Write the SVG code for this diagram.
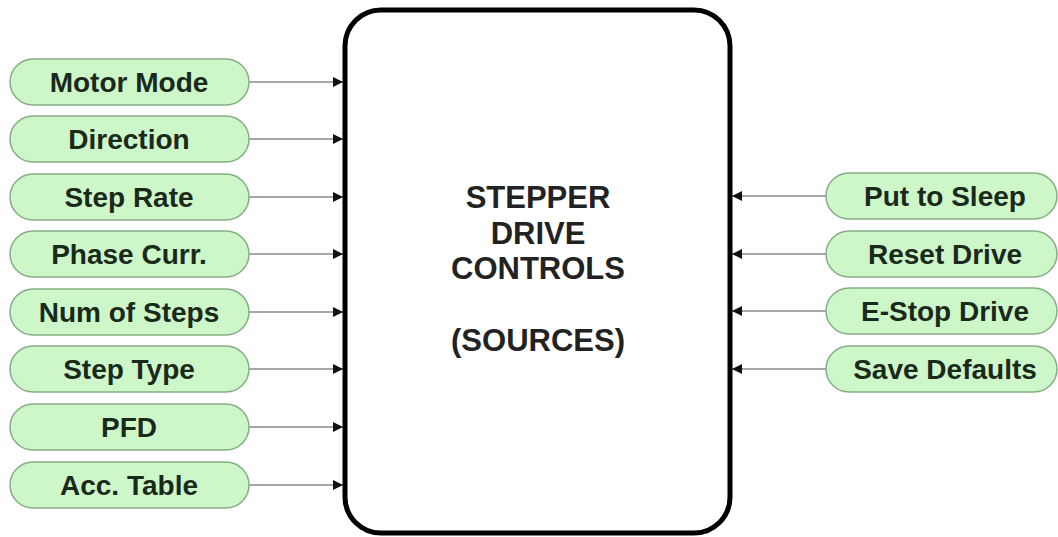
<svg xmlns="http://www.w3.org/2000/svg" width="1058" height="537" viewBox="0 0 1058 537">
<defs>
<style>
.pill{fill:#cdf6c9;stroke:#86ad86;stroke-width:1.5}
.lbl{font-family:"Liberation Sans",Arial,sans-serif;font-weight:bold;font-size:28px;fill:#1a2a1a;text-anchor:middle;dominant-baseline:central}
.ctr{font-family:"Liberation Sans",Arial,sans-serif;font-weight:bold;font-size:31px;fill:#222;text-anchor:middle}
.con{stroke:#888;stroke-width:1.3;fill:none}
</style>
<marker id="ah" viewBox="0 0 10 10" refX="10" refY="5" markerWidth="10" markerHeight="11" markerUnits="userSpaceOnUse" orient="auto">
<path d="M0,0 L10,5 L0,10 z" fill="#111"/>
</marker>
</defs>
<rect width="1058" height="537" fill="#fff"/>
<g id="connectors">
<line class="con" x1="249" y1="82" x2="343" y2="82" marker-end="url(#ah)"/>
<line class="con" x1="249" y1="139" x2="343" y2="139" marker-end="url(#ah)"/>
<line class="con" x1="249" y1="197" x2="343" y2="197" marker-end="url(#ah)"/>
<line class="con" x1="249" y1="254" x2="343" y2="254" marker-end="url(#ah)"/>
<line class="con" x1="249" y1="312" x2="343" y2="312" marker-end="url(#ah)"/>
<line class="con" x1="249" y1="369" x2="343" y2="369" marker-end="url(#ah)"/>
<line class="con" x1="249" y1="427" x2="343" y2="427" marker-end="url(#ah)"/>
<line class="con" x1="249" y1="485" x2="343" y2="485" marker-end="url(#ah)"/>
<line class="con" x1="826" y1="196" x2="732" y2="196" marker-end="url(#ah)"/>
<line class="con" x1="826" y1="254" x2="732" y2="254" marker-end="url(#ah)"/>
<line class="con" x1="826" y1="311" x2="732" y2="311" marker-end="url(#ah)"/>
<line class="con" x1="826" y1="369" x2="732" y2="369" marker-end="url(#ah)"/>
</g>
<g id="main">
<rect x="345" y="10" width="385" height="523" rx="36" ry="36" fill="#fff" stroke="#000" stroke-width="5"/>
<text class="ctr" x="538" y="208">STEPPER</text>
<text class="ctr" x="538" y="244">DRIVE</text>
<text class="ctr" x="538" y="279">CONTROLS</text>
<text class="ctr" x="538" y="351">(SOURCES)</text>
</g>
<g id="n-motor-mode"><rect class="pill" x="10" y="59" width="239" height="46" rx="23"/><text class="lbl" x="129" y="82">Motor Mode</text></g>
<g id="n-direction"><rect class="pill" x="10" y="116" width="239" height="46" rx="23"/><text class="lbl" x="129" y="139">Direction</text></g>
<g id="n-step-rate"><rect class="pill" x="10" y="174" width="239" height="46" rx="23"/><text class="lbl" x="129" y="197">Step Rate</text></g>
<g id="n-phase-curr"><rect class="pill" x="10" y="231" width="239" height="46" rx="23"/><text class="lbl" x="129" y="254">Phase Curr.</text></g>
<g id="n-num-steps"><rect class="pill" x="10" y="289" width="239" height="46" rx="23"/><text class="lbl" x="129" y="312">Num of Steps</text></g>
<g id="n-step-type"><rect class="pill" x="10" y="346" width="239" height="46" rx="23"/><text class="lbl" x="129" y="369">Step Type</text></g>
<g id="n-pfd"><rect class="pill" x="10" y="404" width="239" height="46" rx="23"/><text class="lbl" x="129" y="427">PFD</text></g>
<g id="n-acc-table"><rect class="pill" x="10" y="462" width="239" height="46" rx="23"/><text class="lbl" x="129" y="485">Acc. Table</text></g>
<g id="n-sleep"><rect class="pill" x="826" y="173" width="231" height="46" rx="23"/><text class="lbl" x="945" y="196">Put to Sleep</text></g>
<g id="n-reset"><rect class="pill" x="826" y="231" width="231" height="46" rx="23"/><text class="lbl" x="945" y="254">Reset Drive</text></g>
<g id="n-estop"><rect class="pill" x="826" y="288" width="231" height="46" rx="23"/><text class="lbl" x="945" y="311">E-Stop Drive</text></g>
<g id="n-save"><rect class="pill" x="826" y="346" width="231" height="46" rx="23"/><text class="lbl" x="945" y="369">Save Defaults</text></g>
</svg>
